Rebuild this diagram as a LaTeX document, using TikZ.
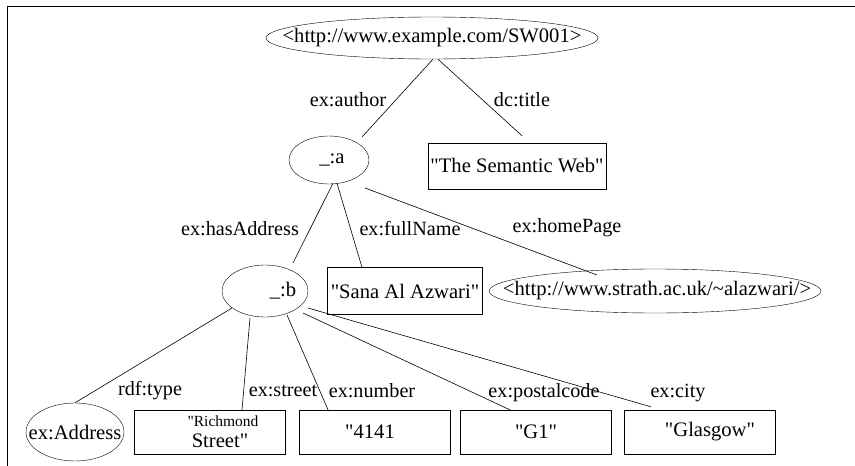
\documentclass[tikz,border=0pt]{standalone}
\usepackage{fontspec}
\setmainfont{Liberation Serif}
\usetikzlibrary{shapes.geometric,calc}
\newcommand\dq{\textquotedbl}
% ellipse outline of a fixed size, whatever the width of its text
\newcommand\fixed[1]{\makebox[0pt]{#1}}
\begin{document}
\begin{tikzpicture}[x=1pt,y=-1pt,
  every node/.style={font=\fontsize{20.6}{23}\selectfont},
  res/.style={draw,ellipse,inner sep=0pt},
  lit/.style={draw,rectangle,inner sep=0pt,minimum width=151pt,minimum height=44pt},
  lbl/.style={inner sep=0pt,font=\fontsize{20.2}{23}\selectfont},
  edge/.style={draw,line width=0.6pt}]
\useasboundingbox (0,0) rectangle (855,466);
% outer frame (top and left sides only)
\draw[line width=0.8pt] (7,466) -- (7,6) -- (855,6);

% resources and blank nodes
\node[res,minimum width=332pt,minimum height=42pt] (sw) at (432,38) {\fixed{<http://www.example.com/SW001>}};
\node[res,minimum width=80pt,minimum height=48pt] (a) at (329,160) {\fixed{\hspace*{6pt}\_:a}};
\node[res,minimum width=86pt,minimum height=52pt] (b) at (265,291) {\fixed{\hspace*{36pt}\_:b}};
\node[res,minimum width=332pt,minimum height=44pt] (home) at (655,291) {\fixed{\hspace*{4pt}<http://www.strath.ac.uk/\textasciitilde alazwari/>}};
\node[res,minimum width=98pt,minimum height=58pt] (addr) at (75,432) {\fixed{ex:Address}};

% literals
\node[lit,minimum width=178pt,minimum height=46pt] (title) at (517,166) {\dq The Semantic Web\dq};
\node[lit,minimum width=155pt,minimum height=47pt] (sana) at (405,291) {\dq Sana Al Azwari\dq};
\node[lit,align=center] (street) at (210,432) {\hspace*{26pt}{\fontsize{15.5}{17}\selectfont \dq Richmond}\\[-2pt]\hspace*{20pt}Street\dq};
\node[lit] (number) at (375,432) {\hspace*{-10pt}\dq 4141};
\node[lit] (g1) at (536,432) {\dq G1\dq};
\node[lit] (city) at (700,432) {\hspace*{20pt}\dq Glasgow\dq};

% properties
\draw[edge] ($(sw.south)+(1,0)$) -- ($(a.center)+(33,-23)$);
\draw[edge] ($(sw.south)+(6,0)$) -- ($(title.north)+(5,-7)$);
\draw[edge] ($(a.south)+(4,-1)$) -- ($(b.center)+(28,-28)$);
\draw[edge] ($(a.south)+(8,-1)$) -- ($(sana.north)+(-43,0)$);
\draw[edge] ($(a.center)+(36,28)$) -- ($(home.center)+(-58,-16)$);
\draw[edge] ($(b.center)+(-33,17)$) -- (addr.north);
\draw[edge] ($(b.center)+(-15,27)$) -- ($(street.north)+(32,0)$);
\draw[edge] ($(b.center)+(22,24)$) -- ($(number.north)+(-47,0)$);
\draw[edge] ($(b.center)+(38,22)$) -- ($(g1.north)+(-24,1)$);
\draw[edge] ($(b.center)+(43,17)$) -- ($(city.north)+(-49,-3)$);

% property labels
\node[lbl] (lauthor) at (348,100) {ex:author};
\node[lbl] (ltitle) at (522,100) {dc:title};
\node[lbl] (laddress) at (240,229) {ex:hasAddress};
\node[lbl] (lname) at (410,229) {ex:fullName};
\node[lbl] (lhome) at (567,228) {ex:homePage};
\node[lbl] (ltype) at (150,391) {rdf:type};
\node[lbl] (lstreet) at (283,391) {ex:street};
\node[lbl] (lnumber) at (372,391) {ex:number};
\node[lbl] (lpostal) at (544,393) {ex:postalcode};
\node[lbl] (lcity) at (678,393) {ex:city};
\end{tikzpicture}
\end{document}
